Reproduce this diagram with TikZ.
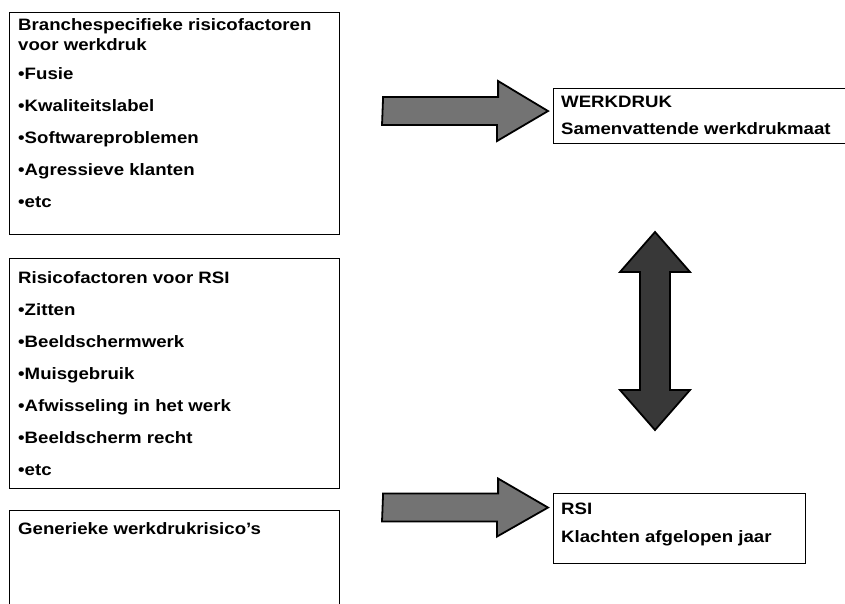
\documentclass[tikz,border=0pt]{standalone}
\usepackage{fontspec}
\newfontfamily\diafont[FakeStretch=1.13]{Liberation Sans}
\usetikzlibrary{positioning}

\begin{document}
\begin{tikzpicture}[
  x=1pt, y=-1pt,
  font=\diafont\bfseries\fontsize{16.5}{20}\selectfont,
  panel/.style = {
    rectangle, draw=black, line width=1.1pt, anchor=north west,
    inner sep=0pt,
  },
  paneltext/.style = {anchor=north west, align=left, inner sep=0pt},
  blockarrow/.style = {draw=black, line width=1.8pt, fill=black!55, line join=miter},
  darkarrow/.style = {blockarrow, fill=black!78},
]
  \useasboundingbox (0,0) rectangle (845,604);
  \clip (0,0) rectangle (845,604);

  % left column
  \node[panel, minimum width=330pt, minimum height=222pt] (branche) at (9,12) {};
  \node[panel, minimum width=330pt, minimum height=230pt] (rsirisk) at (9,258) {};
  \node[panel, minimum width=330pt, minimum height=120pt] (generiek) at (9,510) {};

  \node[paneltext] (branchetxt) at ([xshift=9pt, yshift=-6pt]branche.north west)
    {Branchespecifieke risicofactoren\\voor werkdruk\\[9pt]
     •Fusie\\[12pt]•Kwaliteitslabel\\[12pt]•Softwareproblemen\\[12pt]
     •Agressieve klanten\\[12pt]•etc};
  \node[paneltext] (rsirisktxt) at ([xshift=9pt, yshift=-13pt]rsirisk.north west)
    {Risicofactoren voor RSI\\[12pt]•Zitten\\[12pt]•Beeldschermwerk\\[12pt]
     •Muisgebruik\\[12pt]•Afwisseling in het werk\\[12pt]
     •Beeldscherm recht\\[12pt]•etc};
  \node[paneltext] (generiektxt) at ([xshift=9pt, yshift=-12pt]generiek.north west)
    {Generieke werkdrukrisico’s};

  % right column
  \node[panel, minimum width=320pt, minimum height=55pt] (werkdruk) at (553,88) {};
  \node[panel, minimum width=252pt, minimum height=70pt] (rsi) at (553,493) {};

  \node[paneltext] (werkdruktxt) at ([xshift=8pt, yshift=-8pt]werkdruk.north west)
    {WERKDRUK\\[7pt]Samenvattende werkdrukmaat};
  \node[paneltext] (rsitxt) at ([xshift=8pt, yshift=-10pt]rsi.north west)
    {RSI\\[8pt]Klachten afgelopen jaar};

  % block arrows
  \coordinate (a1tip) at ([xshift=-5pt, yshift=5pt]werkdruk.west);
  \coordinate (a1tail) at ([xshift=43pt]branche.east |- a1tip);
  \coordinate (a2tip) at ([xshift=-5pt, yshift=21pt]rsi.west);
  \coordinate (a2tail) at (a2tip -| a1tail);
  \coordinate (dtop) at (655,232);
  \coordinate (dbot) at (655,430);

  \draw[blockarrow] (a1tail) ++(0,-14) -- ++(115,0) -- ++(0,-16) -- (a1tip)
    -- ++(-51,30) -- ++(0,-16) -- ++(-115,0) -- cycle;
  \draw[blockarrow] (a2tail) ++(0,-14) -- ++(115,0) -- ++(0,-15) -- (a2tip)
    -- ++(-51,29) -- ++(0,-15) -- ++(-115,0) -- cycle;
  \draw[darkarrow] (dtop) -- ++(35,40) -- ++(-20,0) -- ++(0,118) -- ++(20,0)
    -- (dbot) -- ++(-35,-40) -- ++(20,0) -- ++(0,-118) -- ++(-20,0) -- cycle;
\end{tikzpicture}
\end{document}
